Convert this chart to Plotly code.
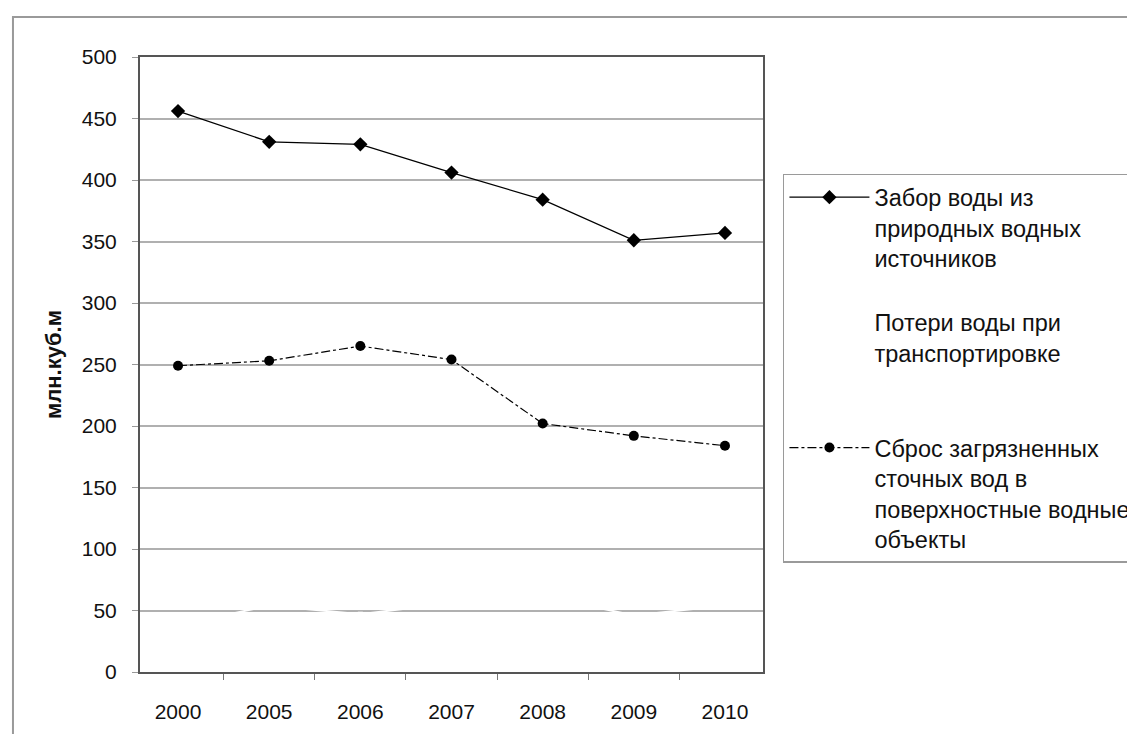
import plotly.graph_objects as go

years = ["2000", "2005", "2006", "2007", "2008", "2009", "2010"]
zabor = [456, 431, 429, 406, 384, 351, 357]
poteri = [38, 54, 47, 56, 62, 46, 54]
sbros = [249, 253, 265, 254, 202, 192, 184]

names = [
    "Забор воды из<br>природных водных<br>источников<br> ",
    "Потери воды при<br>транспортировке<br> <br> ",
    "Сброс загрязненных<br>сточных вод в<br>поверхностные водные<br>объекты",
]

FONT = "Liberation Sans, Arial, sans-serif"

fig = go.Figure()
fig.add_trace(go.Scatter(
    x=years, y=zabor, name=names[0], mode="lines+markers",
    line=dict(color="black", width=1.2),
    marker=dict(symbol="diamond", size=11, color="black"),
))
fig.add_trace(go.Scatter(
    x=years, y=poteri, name=names[1], mode="lines+markers",
    line=dict(color="white", width=2),
    marker=dict(symbol="square", size=5, color="white"),
))
fig.add_trace(go.Scatter(
    x=years, y=sbros, name=names[2], mode="lines+markers",
    line=dict(color="black", width=1.2, dash="dashdot"),
    marker=dict(symbol="circle", size=10, color="black"),
))

# plot area in figure px: x 132..755, y 49..664
fig.update_layout(
    width=1135, height=734,
    margin=dict(l=132, r=380, t=49, b=70, autoexpand=False),
    paper_bgcolor="white", plot_bgcolor="white",
    font=dict(family=FONT, size=21, color="black"),
    showlegend=True,
    legend=dict(
        x=1.032, y=0.81, xanchor="left", yanchor="top",
        bordercolor="#9a9a9a", borderwidth=1.5, bgcolor="white",
        valign="top", tracegroupgap=0, itemwidth=80,
        font=dict(family=FONT, size=23.5, color="#111"),
    ),
    shapes=[dict(
        type="rect", xref="paper", yref="paper",
        x0=-0.2039, x1=1.8, y0=-0.2, y1=1.065,
        line=dict(color="#9a9a9a", width=2), layer="below",
    )],
)

fig.update_xaxes(
    type="category", tickson="boundaries", ticks="outside", ticklen=6,
    tickcolor="#777", showline=True, linecolor="#555", linewidth=2,
    mirror=True, showgrid=False, ticklabelstandoff=20,
    tickfont=dict(family=FONT, size=21, color="#111"),
)
fig.update_yaxes(
    range=[0, 500], dtick=50, ticks="outside", ticklen=6, tickcolor="#999",
    showline=True, linecolor="#555", linewidth=2, mirror=True,
    showgrid=True, gridcolor="#b0b0b0", gridwidth=1.5, zeroline=False,
    ticklabelstandoff=11,
    tickfont=dict(family=FONT, size=21, color="#111"),
    title=dict(text="<b>млн.куб.м</b>", font=dict(family=FONT, size=22, color="#111"), standoff=14),
)

fig.write_html("out.html")
